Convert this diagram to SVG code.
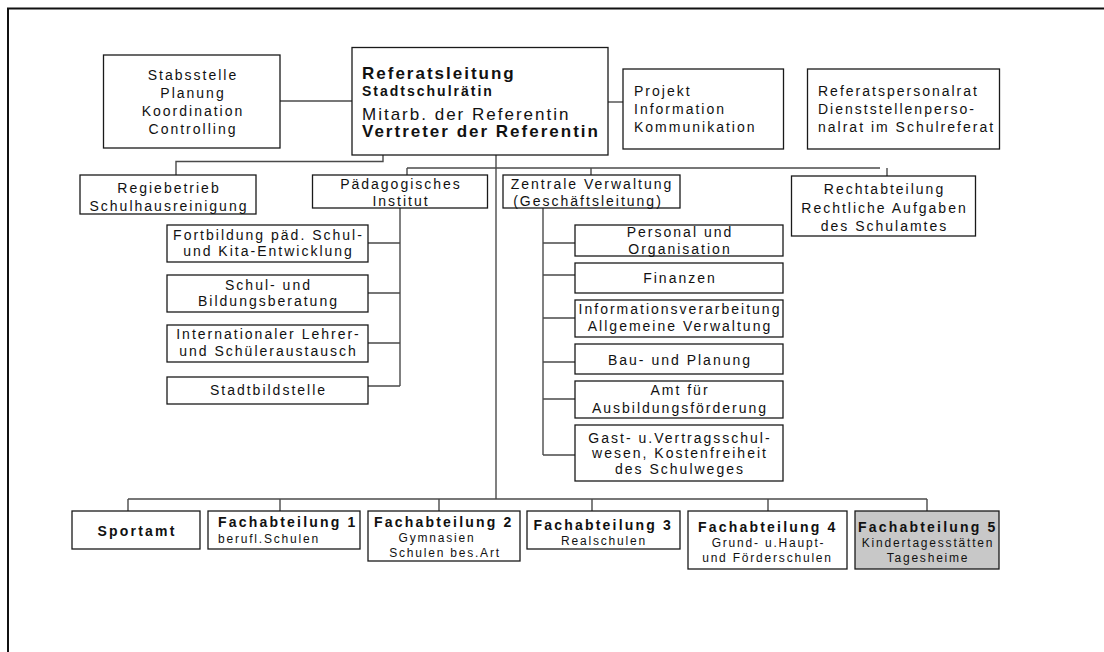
<svg xmlns="http://www.w3.org/2000/svg" width="1104" height="652" viewBox="0 0 1104 652">
  <style>
    text { font-family: "Liberation Sans", Arial, sans-serif; fill: #111; }
    .t { font-size: 14px; letter-spacing: 2px; }
    .c { text-anchor: middle; }
    .b { font-weight: bold; }
    .big { font-size: 17px; letter-spacing: 2px; }
    .head { font-size: 14px; font-weight: bold; letter-spacing: 2.2px; }
    .sub { font-size: 12px; letter-spacing: 1.8px; }
    .box { fill: #fff; stroke: #1a1a1a; stroke-width: 1.3; }
    .grey { fill: #c8c8c8; }
    #connectors path { fill: none; stroke: #4a4a4a; stroke-width: 1.4; }
    .frame { fill: none; stroke: #111; stroke-width: 2; }
  </style>

  <rect width="1104" height="652" fill="#fff"/>
  <!-- page frame (top and left edge) -->
  <path class="frame" d="M8 652 V8.5 H1104"/>

  <g id="connectors">
    <!-- staff units beside the head office -->
    <path d="M280 101 H352"/>
    <path d="M608 102 H623"/>
    <!-- Regiebetrieb -->
    <path d="M383 155 V161.5 H176 V175"/>
    <!-- main spine -->
    <path d="M496 155 V499"/>
    <!-- second level bus -->
    <path d="M407 168 H880"/>
    <path d="M407 168 V175"/>
    <path d="M591 168 V175"/>
    <path d="M887 168 V176"/>
    <!-- Pädagogisches Institut subtree -->
    <path d="M400 208 V386"/>
    <path d="M368 243 H400 M368 293 H400 M368 343 H400 M368 386 H400"/>
    <!-- Zentrale Verwaltung subtree -->
    <path d="M543 208 V455"/>
    <path d="M543 243 H575 M543 275 H575 M543 318 H575 M543 362 H575 M543 399 H575 M543 455 H575"/>
    <!-- bottom bus -->
    <path d="M128 499 H927"/>
    <path d="M128 499 V511 M280 499 V511 M439 499 V511 M592 499 V511 M768 499 V511 M927 499 V511"/>
  </g>

  <g id="stabsstelle">
    <rect class="box" x="103.5" y="55" width="176.5" height="93"/>
    <text class="t c" x="193" y="80">Stabsstelle</text>
    <text class="t c" x="193" y="98">Planung</text>
    <text class="t c" x="193" y="116">Koordination</text>
    <text class="t c" x="193" y="134">Controlling</text>
  </g>

  <g id="referatsleitung">
    <rect class="box" x="352" y="47.5" width="256" height="107.5"/>
    <text class="big b" x="362" y="79">Referatsleitung</text>
    <text class="t b" x="362" y="96">Stadtschulrätin</text>
    <text class="big" x="362" y="120">Mitarb. der Referentin</text>
    <text class="big b" x="362" y="137">Vertreter der Referentin</text>
  </g>

  <g id="projekt">
    <rect class="box" x="623" y="69" width="160.5" height="80"/>
    <text class="t" x="634" y="96">Projekt</text>
    <text class="t" x="634" y="114">Information</text>
    <text class="t" x="634" y="132">Kommunikation</text>
  </g>

  <g id="personalrat">
    <rect class="box" x="807.5" y="69" width="192" height="80"/>
    <text class="t" x="818" y="96">Referatspersonalrat</text>
    <text class="t" x="818" y="114">Dienststellenperso-</text>
    <text class="t" x="818" y="132">nalrat im Schulreferat</text>
  </g>

  <g id="regiebetrieb">
    <rect class="box" x="80" y="175" width="176" height="39"/>
    <text class="t c" x="169" y="192.5">Regiebetrieb</text>
    <text class="t c" x="169" y="210.5">Schulhausreinigung</text>
  </g>

  <g id="paedagogisches-institut">
    <rect class="box" x="312.5" y="175" width="175" height="33"/>
    <text class="t c" x="401" y="189">Pädagogisches</text>
    <text class="t c" x="401" y="206">Institut</text>
  </g>

  <g id="zentrale-verwaltung">
    <rect class="box" x="503" y="175" width="177" height="33"/>
    <text class="t c" x="592" y="189">Zentrale Verwaltung</text>
    <text class="t c" x="588" y="206">(Geschäftsleitung)</text>
  </g>

  <g id="rechtabteilung">
    <rect class="box" x="791.5" y="176" width="184" height="60"/>
    <text class="t c" x="884.5" y="194">Rechtabteilung</text>
    <text class="t c" x="884.5" y="212.5">Rechtliche Aufgaben</text>
    <text class="t c" x="884.5" y="230.5">des Schulamtes</text>
  </g>

  <!-- units of the Pädagogisches Institut -->
  <g id="fortbildung">
    <rect class="box" x="167" y="225" width="201" height="37"/>
    <text class="t c" x="268.5" y="240">Fortbildung päd. Schul-</text>
    <text class="t c" x="268.5" y="256">und Kita-Entwicklung</text>
  </g>
  <g id="bildungsberatung">
    <rect class="box" x="167" y="275" width="201" height="37"/>
    <text class="t c" x="268.5" y="289.5">Schul- und</text>
    <text class="t c" x="268.5" y="306">Bildungsberatung</text>
  </g>
  <g id="austausch">
    <rect class="box" x="167" y="325" width="201" height="37"/>
    <text class="t c" x="268.5" y="339">Internationaler Lehrer-</text>
    <text class="t c" x="268.5" y="356">und Schüleraustausch</text>
  </g>
  <g id="stadtbildstelle">
    <rect class="box" x="167" y="377" width="201" height="27"/>
    <text class="t c" x="268.5" y="395">Stadtbildstelle</text>
  </g>

  <!-- units of the Zentrale Verwaltung -->
  <g id="personal">
    <rect class="box" x="575" y="225" width="208" height="31"/>
    <text class="t c" x="680" y="237">Personal und</text>
    <text class="t c" x="680" y="253.5">Organisation</text>
  </g>
  <g id="finanzen">
    <rect class="box" x="575" y="263" width="208" height="30"/>
    <text class="t c" x="680" y="283">Finanzen</text>
  </g>
  <g id="informationsverarbeitung">
    <rect class="box" x="575" y="300" width="208" height="37"/>
    <text class="t c" x="680" y="314">Informationsverarbeitung</text>
    <text class="t c" x="680" y="331">Allgemeine Verwaltung</text>
  </g>
  <g id="bau">
    <rect class="box" x="575" y="344" width="208" height="30"/>
    <text class="t c" x="680" y="364.5">Bau- und Planung</text>
  </g>
  <g id="ausbildungsfoerderung">
    <rect class="box" x="575" y="381" width="208" height="37"/>
    <text class="t c" x="680" y="395">Amt für</text>
    <text class="t c" x="680" y="413">Ausbildungsförderung</text>
  </g>
  <g id="gastschulwesen">
    <rect class="box" x="575" y="425" width="208" height="56"/>
    <text class="t c" x="680" y="442.5">Gast- u.Vertragsschul-</text>
    <text class="t c" x="680" y="458">wesen, Kostenfreiheit</text>
    <text class="t c" x="680" y="474">des Schulweges</text>
  </g>

  <!-- departments -->
  <g id="sportamt">
    <rect class="box" x="72" y="511" width="128" height="38"/>
    <text class="head c" x="137" y="536">Sportamt</text>
  </g>
  <g id="fachabteilung-1">
    <rect class="box" x="208" y="511" width="152" height="38"/>
    <text class="head" x="218" y="527">Fachabteilung 1</text>
    <text class="sub" x="218" y="543">berufl.Schulen</text>
  </g>
  <g id="fachabteilung-2">
    <rect class="box" x="368" y="511" width="152" height="50"/>
    <text class="head" x="374" y="527">Fachabteilung 2</text>
    <text class="sub c" x="437" y="542">Gymnasien</text>
    <text class="sub c" x="445" y="557">Schulen bes.Art</text>
  </g>
  <g id="fachabteilung-3">
    <rect class="box" x="527" y="511" width="153" height="38"/>
    <text class="head" x="533.5" y="529.5">Fachabteilung 3</text>
    <text class="sub c" x="604" y="545">Realschulen</text>
  </g>
  <g id="fachabteilung-4">
    <rect class="box" x="688" y="511" width="159" height="58"/>
    <text class="head" x="698" y="532">Fachabteilung 4</text>
    <text class="sub c" x="768.5" y="547">Grund- u.Haupt-</text>
    <text class="sub c" x="767.5" y="562">und Förderschulen</text>
  </g>
  <g id="fachabteilung-5">
    <rect class="box grey" x="855" y="511" width="144" height="58"/>
    <text class="head" x="858" y="532">Fachabteilung 5</text>
    <text class="sub c" x="928" y="547">Kindertagesstätten</text>
    <text class="sub c" x="928" y="562">Tagesheime</text>
  </g>
</svg>
